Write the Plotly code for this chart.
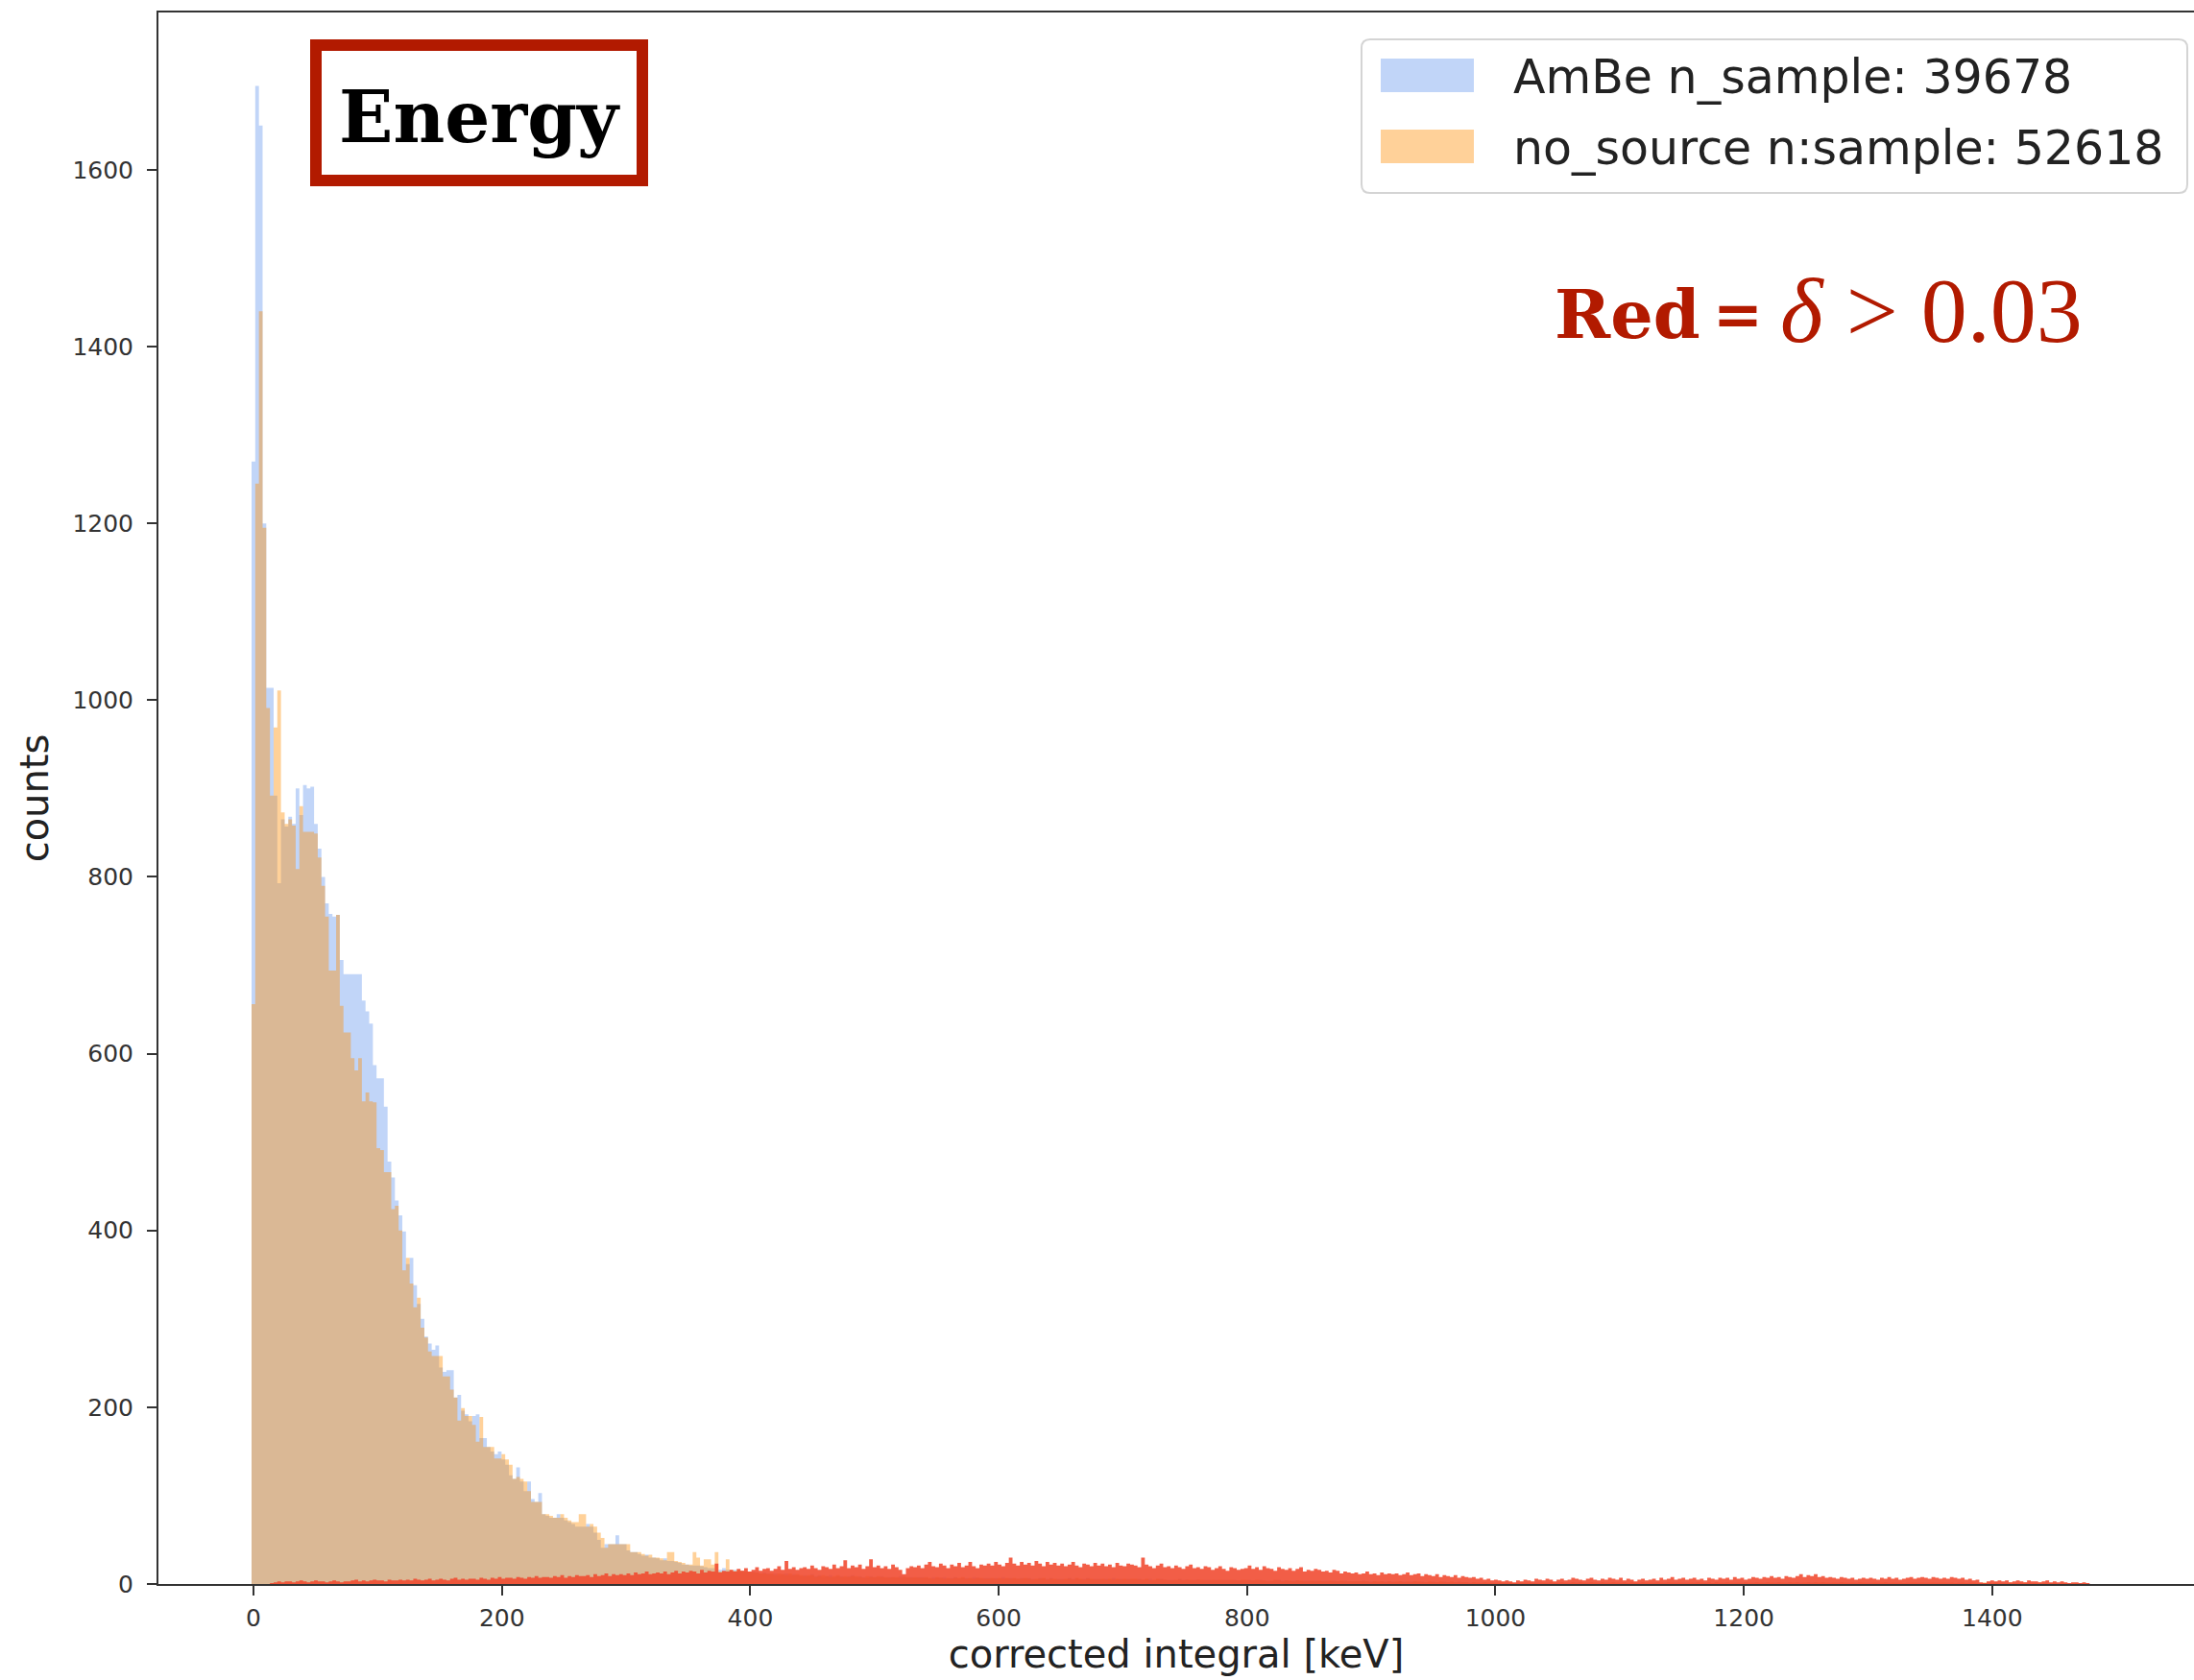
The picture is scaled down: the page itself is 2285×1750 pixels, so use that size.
import numpy as np
import plotly.graph_objects as go

# ---------------- data (histogram counts per bin) ----------------
DATA_MIN = -1.6      # keV, left edge of first bin
DATA_MAX = 1478.4    # keV, right edge of last bin
N_BINS = 500

ambe_counts = [
    1270, 1695, 1650, 1200, 1014, 1014, 892, 793, 865, 857,
    868, 860, 900, 870, 904, 900, 902, 860, 832, 800,
    770, 758, 755, 757, 706, 690, 690, 690, 690, 690,
    660, 648, 634, 587, 572, 572, 540, 478, 460, 434,
    417, 399, 362, 369, 338, 317, 300, 280, 272, 265,
    270, 245, 240, 242, 242, 211, 214, 196, 192, 184,
    190, 192, 165, 165, 155, 150, 147, 150, 141, 135,
    123, 119, 132, 116, 105, 116, 96, 93, 103, 79,
    77, 75, 75, 79, 75, 72, 70, 68, 65, 65,
    65, 68, 65, 58, 50, 41, 45, 45, 45, 55,
    45, 45, 38, 36, 36, 34, 32, 33, 30, 30,
    29, 27, 29, 26, 26, 25, 24, 22, 22, 21,
    21, 21, 20, 19, 18, 18, 14, 16, 18, 16,
    15, 16, 14, 15, 14, 13, 14, 13, 12, 13,
    12, 11, 12, 10, 11, 12, 10, 11, 10, 9,
    10, 9, 11, 9, 10, 8, 9, 10, 8, 9,
    9, 8, 9, 10, 8, 9, 8, 7, 9, 8,
    8, 9, 7, 8, 8, 7, 9, 8, 7, 8,
    7, 8, 8, 7, 6, 8, 7, 7, 8, 6,
    7, 8, 6, 7, 7, 6, 8, 7, 6, 7,
    7, 6, 7, 6, 8, 6, 7, 6, 6, 7,
    6, 7, 6, 5, 7, 6, 6, 7, 5, 6,
    6, 5, 7, 6, 6, 5, 6, 7, 5, 6,
    6, 5, 6, 5, 7, 5, 6, 5, 6, 5,
    5, 6, 5, 5, 6, 4, 5, 6, 5, 5,
    5, 4, 6, 5, 5, 4, 5, 5, 4, 5,
    5, 4, 5, 4, 5, 5, 4, 5, 4, 4,
    4, 5, 4, 4, 5, 4, 4, 3, 4, 5,
    4, 4, 3, 4, 4, 3, 4, 4, 3, 4,
    3, 4, 4, 3, 4, 3, 3, 4, 3, 3,
    3, 3, 4, 3, 3, 3, 2, 3, 3, 3,
    3, 2, 3, 3, 2, 3, 3, 2, 3, 2,
    2, 3, 2, 2, 3, 2, 2, 2, 3, 2,
    2, 2, 2, 1, 2, 2, 1, 2, 2, 1,
    1, 2, 1, 1, 2, 1, 2, 1, 2, 2,
    2, 1, 2, 2, 1, 2, 2, 1, 2, 2,
    2, 2, 1, 2, 2, 1, 2, 2, 2, 1,
    2, 1, 2, 2, 1, 2, 1, 2, 2, 1,
    1, 2, 2, 1, 2, 2, 1, 2, 1, 2,
    2, 1, 2, 2, 1, 2, 2, 1, 2, 1,
    2, 2, 1, 2, 1, 2, 2, 1, 2, 2,
    1, 2, 2, 1, 2, 2, 1, 2, 2, 1,
    2, 2, 1, 2, 2, 2, 1, 2, 1, 2,
    1, 2, 2, 1, 2, 1, 2, 2, 1, 2,
    2, 1, 2, 1, 2, 2, 1, 2, 1, 1,
    2, 1, 1, 2, 1, 2, 1, 1, 2, 1,
    1, 2, 1, 1, 2, 1, 1, 2, 1, 1,
    1, 1, 2, 1, 1, 1, 2, 1, 1, 1,
    1, 1, 1, 2, 1, 1, 1, 1, 2, 1,
    1, 1, 0, 1, 1, 0, 1, 1, 0, 1,
]

nosource_counts = [
    656, 1245, 1440, 1195, 991, 892, 969, 1011, 873, 860,
    865, 858, 809, 880, 851, 851, 851, 849, 822, 790,
    755, 694, 694, 757, 654, 624, 624, 595, 581, 595,
    546, 556, 546, 545, 493, 491, 466, 466, 424, 428,
    400, 355, 369, 340, 313, 324, 290, 279, 263, 258,
    258, 258, 235, 235, 220, 211, 185, 199, 190, 190,
    180, 161, 189, 155, 155, 155, 142, 142, 147, 141,
    135, 119, 121, 119, 116, 105, 93, 93, 93, 79,
    79, 77, 75, 75, 79, 75, 72, 70, 70, 79,
    79, 65, 68, 65, 58, 52, 41, 45, 45, 45,
    45, 45, 45, 36, 36, 36, 34, 32, 33, 30,
    30, 29, 27, 36, 36, 26, 25, 24, 22, 22,
    36, 30, 21, 28, 28, 22, 36, 14, 14, 28,
    16, 15, 16, 15, 14, 14, 13, 13, 12, 12,
    11, 12, 10, 12, 11, 10, 12, 10, 11, 10,
    9, 10, 10, 8, 9, 10, 9, 8, 9, 10,
    8, 9, 8, 9, 9, 8, 7, 9, 8, 8,
    9, 8, 8, 7, 8, 8, 7, 9, 8, 7,
    8, 7, 7, 8, 7, 6, 8, 7, 6, 7,
    6, 7, 7, 8, 6, 7, 6, 7, 7, 6,
    6, 7, 6, 7, 6, 7, 6, 7, 6, 6,
    7, 6, 5, 6, 6, 7, 5, 6, 6, 5,
    5, 6, 6, 5, 7, 6, 5, 6, 6, 5,
    5, 6, 5, 6, 5, 6, 5, 6, 5, 6,
    6, 5, 5, 6, 4, 5, 6, 5, 5, 4,
    4, 5, 5, 4, 5, 5, 4, 5, 5, 4,
    4, 5, 4, 5, 4, 4, 5, 4, 4, 5,
    5, 4, 4, 5, 4, 4, 3, 4, 5, 4,
    3, 4, 4, 3, 4, 4, 3, 3, 4, 3,
    4, 3, 3, 4, 3, 3, 4, 3, 3, 3,
    3, 3, 3, 3, 2, 3, 3, 3, 2, 3,
    2, 3, 3, 2, 3, 2, 3, 3, 2, 2,
    3, 2, 2, 3, 2, 2, 3, 2, 2, 2,
    2, 1, 2, 2, 1, 2, 2, 1, 1, 2,
    2, 1, 2, 1, 1, 2, 1, 2, 1, 1,
    1, 2, 1, 2, 2, 1, 2, 2, 1, 2,
    1, 2, 2, 1, 2, 2, 1, 2, 1, 2,
    2, 2, 1, 2, 1, 2, 2, 1, 2, 2,
    2, 1, 2, 2, 1, 2, 2, 1, 2, 1,
    1, 2, 1, 2, 2, 1, 2, 1, 2, 2,
    1, 2, 2, 1, 2, 1, 2, 2, 1, 2,
    2, 1, 2, 2, 1, 2, 2, 1, 2, 2,
    2, 1, 2, 2, 1, 2, 2, 2, 2, 1,
    2, 1, 2, 2, 1, 2, 1, 2, 2, 1,
    1, 2, 1, 2, 2, 1, 2, 1, 2, 1,
    1, 2, 2, 1, 2, 1, 2, 2, 1, 2,
    2, 1, 2, 1, 1, 2, 1, 1, 2, 1,
    1, 2, 1, 1, 2, 1, 1, 1, 2, 1,
    1, 1, 2, 1, 1, 1, 2, 1, 1, 1,
    1, 0, 1, 1, 0, 1, 1, 0, 1, 0,
]

red_counts = [
    0, 0, 0, 0, 0, 1, 2, 3, 2, 3,
    3, 2, 3, 4, 3, 2, 3, 4, 3, 3,
    2, 3, 4, 3, 2, 3, 3, 4, 5, 3,
    4, 3, 4, 5, 4, 4, 3, 5, 4, 4,
    5, 4, 5, 4, 6, 5, 4, 5, 6, 4,
    5, 6, 5, 4, 6, 7, 5, 6, 5, 6,
    6, 5, 7, 6, 5, 7, 6, 8, 6, 7,
    7, 6, 8, 7, 6, 8, 7, 9, 7, 8,
    8, 7, 9, 8, 10, 7, 9, 8, 10, 9,
    9, 10, 8, 11, 9, 10, 12, 9, 11, 10,
    11, 10, 12, 10, 13, 11, 12, 14, 11, 12,
    13, 12, 14, 11, 13, 15, 12, 14, 13, 15,
    14, 12, 16, 13, 15, 14, 23, 13, 15, 14,
    16, 14, 17, 15, 18, 14, 16, 19, 15, 17,
    18, 15, 17, 20, 16, 26, 17, 19, 16, 18,
    19, 17, 21, 18, 16, 20, 19, 17, 22, 18,
    20, 27, 18, 21, 19, 22, 17, 20, 28, 19,
    21, 18, 20, 17, 22, 19, 16, 11, 18, 20,
    19, 21, 18, 22, 25, 20, 19, 23, 21, 18,
    22, 20, 24, 19, 21, 25, 20, 18, 22, 21,
    23, 21, 25, 22, 20, 24, 30, 23, 21, 25,
    22, 24, 21, 26, 23, 20, 25, 22, 24, 21,
    23, 20, 22, 25, 21, 19, 23, 22, 20, 24,
    21, 23, 20, 22, 19, 24, 21, 20, 23, 22,
    21, 19, 30, 22, 20, 18, 21, 23, 19, 20,
    18, 21, 19, 17, 20, 22, 18, 19, 17, 20,
    19, 16, 18, 20, 17, 15, 19, 18, 16, 17,
    18, 21, 17, 19, 16, 20, 18, 17, 15, 19,
    17, 16, 18, 15, 17, 19, 14, 16, 15, 17,
    16, 14, 15, 13, 16, 15, 12, 14, 13, 12,
    13, 11, 12, 14, 11, 12, 10, 13, 11, 12,
    11, 12, 10, 11, 13, 10, 11, 12, 9, 11,
    10, 9, 11, 8, 10, 9, 8, 10, 7, 9,
    8, 7, 8, 6, 7, 5, 6, 4, 5, 4,
    3, 4, 3, 2, 4, 3, 5, 4, 3, 6,
    5, 4, 6, 5, 3, 5, 6, 4, 5, 7,
    6, 5, 4, 6, 7, 5, 4, 6, 5, 7,
    6, 5, 7, 4, 6, 5, 3, 5, 6, 4,
    5, 6, 4, 7, 5, 6, 8, 5, 6, 7,
    5, 6, 7, 5, 6, 4, 7, 6, 5, 7,
    6, 7, 5, 8, 6, 7, 5, 6, 8, 7,
    6, 8, 7, 9, 7, 8, 6, 9, 8, 7,
    9, 11, 8, 10, 9, 11, 8, 9, 7, 8,
    7, 6, 8, 7, 6, 7, 5, 6, 7, 6,
    7, 6, 5, 7, 6, 8, 6, 7, 5, 6,
    7, 8, 6, 7, 8, 7, 6, 8, 7, 6,
    7, 6, 8, 7, 6, 7, 5, 6, 4, 5,
    2, 1, 3, 4, 3, 4, 3, 4, 2, 3,
    4, 3, 2, 4, 3, 3, 2, 3, 4, 2,
    3, 2, 3, 2, 1, 2, 2, 1, 2, 1,
]

legend_labels = ["AmBe n_sample: 39678", "no_source n:sample: 52618"]
x_ticks = [0, 200, 400, 600, 800, 1000, 1200, 1400]
y_ticks = [0, 200, 400, 600, 800, 1000, 1200, 1400, 1600]

# ---------------- styling ----------------
BLUE = "rgba(100,149,237,0.4)"
ORANGE = "rgba(255,140,0,0.4)"
RED = "rgba(240,72,45,0.88)"
DARKRED = "#B21A00"
AX = "#333333"

BIN_W = (DATA_MAX - DATA_MIN) / N_BINS


def step_trace(counts, color):
    n = len(counts)
    edges = DATA_MIN + BIN_W * np.arange(n + 1)
    y = list(counts) + [counts[-1]]
    return go.Scatter(x=edges, y=y, mode="lines", line=dict(width=0, shape="hv"),
                      fill="tozeroy", fillcolor=color, hoverinfo="skip", showlegend=False)


fig = go.Figure()
fig.add_trace(step_trace(ambe_counts, BLUE))
fig.add_trace(step_trace(nosource_counts, ORANGE))
fig.add_trace(step_trace(red_counts, RED))

# plot-area geometry (pixels) for placing overlay items
PL, PT, PW, PH = 165, 13, 2120, 1637


def pxx(x):
    return (x - PL) / PW


def pxy(y):
    return (PT + PH - y) / PH


shapes = []
annotations = []


def rounded_rect(x0, y0, x1, y1, r):
    rx, ry = r / PW, r / PH
    X0, X1 = pxx(x0), pxx(x1)
    Y0, Y1 = pxy(y0), pxy(y1)  # Y0 top, Y1 bottom
    return (f"M{X0+rx},{Y0} L{X1-rx},{Y0} Q{X1},{Y0} {X1},{Y0-ry} "
            f"L{X1},{Y1+ry} Q{X1},{Y1} {X1-rx},{Y1} L{X0+rx},{Y1} "
            f"Q{X0},{Y1} {X0},{Y1+ry} L{X0},{Y0-ry} Q{X0},{Y0} {X0+rx},{Y0} Z")


# legend box
shapes.append(dict(type="path", xref="paper", yref="paper",
                   path=rounded_rect(1418, 41, 2278, 201, 9),
                   line=dict(color="#d4d4d4", width=2), fillcolor="rgba(255,255,255,0.85)"))
for (y0, y1), col, lab, yc in zip([(61, 96), (135, 170)], [BLUE, ORANGE], legend_labels, [80, 154]):
    shapes.append(dict(type="rect", xref="paper", yref="paper",
                       x0=pxx(1438), x1=pxx(1535), y0=pxy(y1), y1=pxy(y0),
                       line=dict(width=0), fillcolor=col))
    annotations.append(dict(xref="paper", yref="paper", x=pxx(1574), y=pxy(yc),
                            xanchor="left", yanchor="middle", showarrow=False, text=lab,
                            font=dict(family="DejaVu Sans", size=49, color="#222222")))

# "Energy" stamp box
shapes.append(dict(type="rect", xref="paper", yref="paper",
                   x0=pxx(329), x1=pxx(669), y0=pxy(188), y1=pxy(47),
                   line=dict(color=DARKRED, width=12), fillcolor="white"))
annotations.append(dict(xref="paper", yref="paper", x=pxx(499), y=pxy(122),
                        xanchor="center", yanchor="middle", showarrow=False,
                        text="<b>Energy</b>",
                        font=dict(family="DejaVu Serif", size=74, color="black")))

# "Red = δ > 0.03"
annotations.append(dict(xref="paper", yref="paper", x=pxx(1773), y=pxy(327),
                        xanchor="right", yanchor="middle", showarrow=False,
                        text="<b>Red</b>",
                        font=dict(family="DejaVu Serif", size=70, color=DARKRED)))
annotations.append(dict(xref="paper", yref="paper", x=pxx(1810), y=pxy(327),
                        xanchor="center", yanchor="middle", showarrow=False,
                        text="<b>=</b>",
                        font=dict(family="DejaVu Sans", size=62, color=DARKRED)))
annotations.append(dict(xref="paper", yref="paper", x=pxx(1852), y=pxy(324),
                        xanchor="left", yanchor="middle", showarrow=False,
                        text="<i>δ</i> &gt; 0.03",
                        font=dict(family="Liberation Serif", size=96, color=DARKRED)))

fig.update_layout(
    width=2285, height=1750,
    margin=dict(l=PL, r=0, t=PT, b=100, pad=0),
    paper_bgcolor="white", plot_bgcolor="white",
    showlegend=False,
    shapes=shapes, annotations=annotations,
    xaxis=dict(range=[-76.6, 1562.5], tickmode="array", tickvals=x_ticks,
               ticktext=[str(v) for v in x_ticks],
               ticks="outside", ticklen=10, tickwidth=2, tickcolor=AX,
               showline=True, linecolor=AX, linewidth=2, mirror=True,
               showgrid=False, zeroline=False, ticklabelstandoff=2,
               tickfont=dict(family="DejaVu Sans", size=25, color=AX),
               title=dict(text="corrected integral [keV]", standoff=8,
                          font=dict(family="DejaVu Sans", size=40, color="#222222"))),
    yaxis=dict(range=[0, 1778], tickmode="array", tickvals=y_ticks,
               ticktext=[str(v) for v in y_ticks],
               ticks="outside", ticklen=10, tickwidth=2, tickcolor=AX,
               showline=True, linecolor=AX, linewidth=2, mirror=False,
               showgrid=False, zeroline=False, ticklabelstandoff=9,
               tickfont=dict(family="DejaVu Sans", size=25, color=AX),
               title=dict(text="counts", standoff=12,
                          font=dict(family="DejaVu Sans", size=40, color="#222222"))),
)

fig.write_html("out.html")
